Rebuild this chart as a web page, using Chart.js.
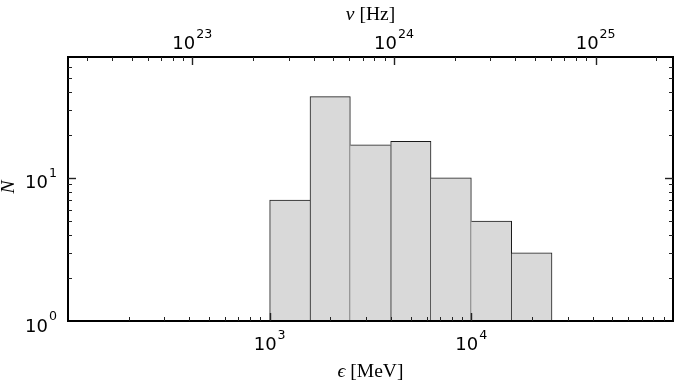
<!DOCTYPE html>
<html>
<head>
<meta charset="utf-8">
<script src="https://cdn.jsdelivr.net/npm/chart.js@4.4.0/dist/chart.umd.min.js"></script>
<style>
  html, body { margin: 0; padding: 0; background: #fff; }
  #wrap { width: 680px; height: 382px; }
</style>
</head>
<body>
<div id="wrap"><canvas id="histChart"></canvas></div>
<script>
// ── data ──
const binEdges = [1000, 1585, 2512, 3981, 6310, 10000, 15849, 25119]; // MeV, 0.2 dex bins
const counts = [7, 37, 17, 18, 10, 5, 3];
const energyRange = [100, 100000];   // MeV
const countRange = [1, 70];
const MEV_TO_HZ = 2.418e20;
const xTitle = ['ϵ', ' [MeV]'];
const x2Title = ['ν', ' [Hz]'];
const yTitle = 'N';

const LABEL_FONT = '"DejaVu Sans", sans-serif';
const TITLE_FONT = '"Liberation Serif", "DejaVu Serif", serif';
const TITLE_SIZE = 19.5;

const barData = counts.map((c, i) => ({
  x: Math.sqrt(binEdges[i] * binEdges[i + 1]),
  y: [countRange[0], c],
}));

// each shared edge is drawn once, by the taller bar
function edgeWidths(i) {
  const prev = i > 0 ? counts[i - 1] : -1;
  const next = i < counts.length - 1 ? counts[i + 1] : -1;
  return { top: 1, bottom: 0, left: counts[i] >= prev ? 1 : 0, right: counts[i] > next ? 1 : 0 };
}

function decades(min, max) {
  const out = [];
  for (let e = Math.ceil(Math.log10(min) - 1e-9); e <= Math.floor(Math.log10(max) + 1e-9); e++) out.push(Math.pow(10, e));
  return out;
}

function logTicks(min, max) {
  const out = [];
  for (let e = Math.floor(Math.log10(min)); e <= Math.ceil(Math.log10(max)); e++) {
    for (let m = 1; m <= 9; m++) {
      const v = m * Math.pow(10, e);
      if (v > min * 1.0001 && v < max * 0.9999) out.push({ v, major: m === 1, exp: e });
    }
  }
  return out;
}

const keepDecades = scale => {
  scale.ticks = decades(scale.min, scale.max).map(v => ({ value: v, major: true }));
};

function drawPow(ctx, exp, x, y, align) {
  ctx.font = '18px ' + LABEL_FONT;
  const wb = ctx.measureText('10').width;
  ctx.font = '12.6px ' + LABEL_FONT;
  const we = ctx.measureText(String(exp)).width;
  const total = wb + 1 + we;
  const x0 = align === 'center' ? x - total / 2 : align === 'right' ? x - total : x;
  ctx.textAlign = 'left';
  ctx.textBaseline = 'alphabetic';
  ctx.font = '18px ' + LABEL_FONT;
  ctx.fillText('10', x0, y);
  ctx.font = '12.6px ' + LABEL_FONT;
  ctx.fillText(String(exp), x0 + wb + 1, y - 11.5);
}

function drawTitle(ctx, parts, x, y) {
  const it = 'italic ' + TITLE_SIZE + 'px ' + TITLE_FONT, rm = TITLE_SIZE + 'px ' + TITLE_FONT;
  ctx.font = it; const w1 = ctx.measureText(parts[0]).width;
  ctx.font = rm; const w2 = ctx.measureText(parts[1]).width;
  const x0 = x - (w1 + w2) / 2;
  ctx.textAlign = 'left';
  ctx.textBaseline = 'alphabetic';
  ctx.font = it; ctx.fillText(parts[0], x0, y);
  ctx.font = rm; ctx.fillText(parts[1], x0 + w1, y);
}

// ── ticks (inside), tick labels and axis titles ──
const axisDecor = {
  id: 'axisDecor',
  afterDraw(chart) {
    const { ctx, chartArea: a, scales } = chart;
    ctx.save();
    ctx.strokeStyle = '#222';
    ['x', 'x2', 'y', 'y2'].forEach(id => {
      const s = scales[id];
      logTicks(s.min, s.max).forEach(t => {
        const len = t.major ? 8 : 4;
        ctx.lineWidth = t.major ? 1.4 : 1;
        const p = Math.round(s.getPixelForValue(t.v)) + 0.5;
        ctx.beginPath();
        if (id === 'x') { ctx.moveTo(p, a.bottom); ctx.lineTo(p, a.bottom - len); }
        if (id === 'x2') { ctx.moveTo(p, a.top); ctx.lineTo(p, a.top + len); }
        if (id === 'y') { ctx.moveTo(a.left, p); ctx.lineTo(a.left + len, p); }
        if (id === 'y2') { ctx.moveTo(a.right, p); ctx.lineTo(a.right - len, p); }
        ctx.stroke();
      });
    });

    ctx.fillStyle = '#000';
    decades(scales.x.min, scales.x.max).forEach(v => {
      if (v <= scales.x.min || v >= scales.x.max) return;
      drawPow(ctx, Math.round(Math.log10(v)), scales.x.getPixelForValue(v), a.bottom + 29, 'center');
    });
    decades(scales.x2.min, scales.x2.max).forEach(v => {
      drawPow(ctx, Math.round(Math.log10(v)), scales.x2.getPixelForValue(v), a.top - 8, 'center');
    });
    decades(scales.y.min, scales.y.max).forEach(v => {
      drawPow(ctx, Math.round(Math.log10(v)), a.left - 11, scales.y.getPixelForValue(v) + 10.5, 'right');
    });

    const cx = (a.left + a.right) / 2;
    drawTitle(ctx, xTitle, cx, a.bottom + 56);
    drawTitle(ctx, x2Title, cx, 20);

    ctx.translate(14, (a.top + a.bottom) / 2 - 2);
    ctx.rotate(-Math.PI / 2);
    ctx.font = 'italic ' + TITLE_SIZE + 'px ' + TITLE_FONT;
    ctx.textAlign = 'center';
    ctx.textBaseline = 'alphabetic';
    ctx.fillText(yTitle, 0, 0);
    ctx.restore();
  }
};

function logAxis(position, min, max, extra) {
  return Object.assign({
    type: 'logarithmic',
    position,
    display: true,
    min, max,
    offset: false,
    grid: { display: false, drawTicks: false },
    ticks: { display: false },
    border: { display: true, color: '#000', width: 2, z: 1 },
    title: { display: false },
  }, extra || {});
}

new Chart(document.getElementById('histChart').getContext('2d'), {
  type: 'bar',
  data: {
    datasets: [{
      data: barData,
      backgroundColor: '#d9d9d9',
      borderColor: '#1a1a1a',
      borderWidth: c => edgeWidths(c.dataIndex),
      borderSkipped: false,
      barPercentage: 1,
      categoryPercentage: 1,
    }]
  },
  options: {
    responsive: true,
    maintainAspectRatio: false,
    animation: false,
    layout: { padding: { left: 68, top: 57, right: 7, bottom: 61 } },
    plugins: { legend: { display: false }, tooltip: { enabled: false } },
    scales: {
      x: logAxis('bottom', energyRange[0], energyRange[1], { afterBuildTicks: keepDecades }),
      x2: logAxis('top', energyRange[0] * MEV_TO_HZ, energyRange[1] * MEV_TO_HZ, { afterBuildTicks: keepDecades }),
      y: logAxis('left', countRange[0], countRange[1]),
      y2: logAxis('right', countRange[0], countRange[1]),
    }
  },
  plugins: [axisDecor]
});
</script>
</body>
</html>
